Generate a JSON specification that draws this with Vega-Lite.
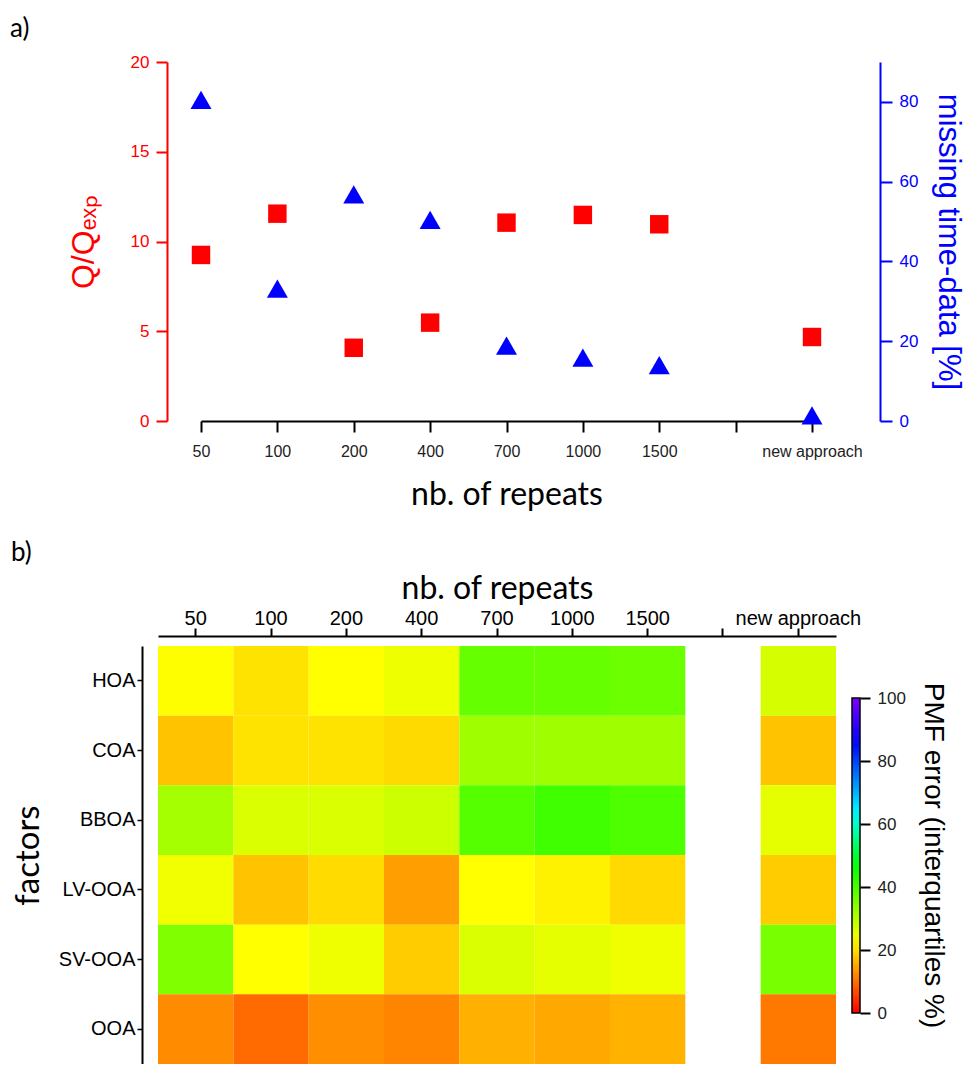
{
  "$schema": "https://vega.github.io/schema/vega-lite/v6.json",
  "background": "white",
  "padding": {"left": 10, "top": 16, "right": 5, "bottom": 0},
  "spacing": 30,
  "resolve": {"legend": {"color": "independent"}},
  "config": {
    "view": {"stroke": null},
    "axis": {"grid": false, "labelFont": "Liberation Sans", "titleFont": "Liberation Sans", "titleFontWeight": "normal"},
    "title": {"font": "Lato", "fontSize": 26, "fontWeight": "normal", "anchor": "start", "frame": "group", "color": "black", "baseline": "alphabetic"}
  },
  "vconcat": [
    {
      "title": {"text": "a)", "dx": -148, "offset": 11},
      "width": 722,
      "height": 359,
      "data": {"values": [
        {"r": "50", "Q": 9.25, "m": 80.5},
        {"r": "100", "Q": 11.55, "m": 33.2},
        {"r": "200", "Q": 4.08, "m": 56.8},
        {"r": "400", "Q": 5.48, "m": 50.4},
        {"r": "700", "Q": 11.05, "m": 18.9},
        {"r": "1000", "Q": 11.48, "m": 15.9},
        {"r": "1500", "Q": 10.96, "m": 14.0},
        {"r": "new approach", "Q": 4.68, "m": 1.4}
      ]},
      "layer": [
        {
          "mark": {"type": "point", "shape": "square", "filled": true, "color": "#ff0000", "size": 340, "opacity": 1},
          "encoding": {
            "x": {
              "field": "r", "type": "ordinal",
              "scale": {"type": "point", "domain": ["50", "100", "200", "400", "700", "1000", "1500", " ", "new approach"], "range": [43, 654], "padding": 0},
              "axis": {"title": "nb. of repeats", "titleFont": "Lato", "titleFontSize": 32, "titleColor": "black", "titlePadding": 20, "labelFontSize": 16, "labelColor": "#222222", "labelPadding": 11, "labelAngle": 0, "tickSize": 11, "tickWidth": 2, "tickColor": "black", "domainColor": "black", "domainWidth": 2}
            },
            "y": {
              "field": "Q", "type": "quantitative",
              "scale": {"domain": [0, 20], "nice": false},
              "axis": {"orient": "left", "offset": -9, "values": [0, 5, 10, 15, 20], "title": "Q/Qₑₓₚ", "titleColor": "#ff0000", "titleFontSize": 32, "titlePadding": 30, "labelColor": "#ff0000", "labelFontSize": 17, "labelPadding": 7, "tickColor": "#ff0000", "tickSize": 11, "tickWidth": 2, "domainColor": "#ff0000", "domainWidth": 2}
            }
          }
        },
        {
          "mark": {"type": "point", "shape": "triangle-up", "filled": true, "color": "#0000ff", "size": 441, "opacity": 1},
          "encoding": {
            "x": {"field": "r", "type": "ordinal"},
            "y": {
              "field": "m", "type": "quantitative",
              "scale": {"domain": [0, 90], "nice": false},
              "axis": {"orient": "right", "values": [0, 20, 40, 60, 80], "title": "missing time-data [%]", "titleAngle": 90, "titleColor": "#0000ff", "titleFontSize": 31, "titlePadding": 14, "labelColor": "#0000ff", "labelFontSize": 17, "labelPadding": 7, "tickColor": "#0000ff", "tickSize": 12, "tickWidth": 2, "domainColor": "#0000ff", "domainWidth": 2}
            }
          }
        }
      ],
      "resolve": {"scale": {"y": "independent"}}
    },
    {
      "title": {"text": "b)", "dx": -147, "offset": 6},
      "width": 678,
      "height": 418,
      "layer": [
        {
          "data": {"values": [
            {"f": "HOA", "r": "50", "e": 22.9}, {"f": "HOA", "r": "100", "e": 20.5}, {"f": "HOA", "r": "200", "e": 23.0}, {"f": "HOA", "r": "400", "e": 24.6},
            {"f": "HOA", "r": "700", "e": 37.4}, {"f": "HOA", "r": "1000", "e": 37.4}, {"f": "HOA", "r": "1500", "e": 36.8}, {"f": "HOA", "r": "new approach", "e": 27.0},
            {"f": "COA", "r": "50", "e": 17.6}, {"f": "COA", "r": "100", "e": 20.5}, {"f": "COA", "r": "200", "e": 20.5}, {"f": "COA", "r": "400", "e": 19.7},
            {"f": "COA", "r": "700", "e": 32.0}, {"f": "COA", "r": "1000", "e": 32.0}, {"f": "COA", "r": "1500", "e": 32.0}, {"f": "COA", "r": "new approach", "e": 17.6},
            {"f": "BBOA", "r": "50", "e": 31.5}, {"f": "BBOA", "r": "100", "e": 26.6}, {"f": "BBOA", "r": "200", "e": 26.6}, {"f": "BBOA", "r": "400", "e": 27.8},
            {"f": "BBOA", "r": "700", "e": 39.0}, {"f": "BBOA", "r": "1000", "e": 41.0}, {"f": "BBOA", "r": "1500", "e": 39.8}, {"f": "BBOA", "r": "new approach", "e": 25.4},
            {"f": "LV-OOA", "r": "50", "e": 24.2}, {"f": "LV-OOA", "r": "100", "e": 17.6}, {"f": "LV-OOA", "r": "200", "e": 19.75}, {"f": "LV-OOA", "r": "400", "e": 14.25},
            {"f": "LV-OOA", "r": "700", "e": 23.0}, {"f": "LV-OOA", "r": "1000", "e": 21.8}, {"f": "LV-OOA", "r": "1500", "e": 19.6}, {"f": "LV-OOA", "r": "new approach", "e": 18.4},
            {"f": "SV-OOA", "r": "50", "e": 34.95}, {"f": "SV-OOA", "r": "100", "e": 23.0}, {"f": "SV-OOA", "r": "200", "e": 24.4}, {"f": "SV-OOA", "r": "400", "e": 18.4},
            {"f": "SV-OOA", "r": "700", "e": 26.6}, {"f": "SV-OOA", "r": "1000", "e": 25.4}, {"f": "SV-OOA", "r": "1500", "e": 24.4}, {"f": "SV-OOA", "r": "new approach", "e": 35.7},
            {"f": "OOA", "r": "50", "e": 12.6}, {"f": "OOA", "r": "100", "e": 9.65}, {"f": "OOA", "r": "200", "e": 12.9}, {"f": "OOA", "r": "400", "e": 12.0},
            {"f": "OOA", "r": "700", "e": 15.9}, {"f": "OOA", "r": "1000", "e": 15.2}, {"f": "OOA", "r": "1500", "e": 16.1}, {"f": "OOA", "r": "new approach", "e": 10.8}
          ]},
          "mark": {"type": "rect"},
          "encoding": {
            "x": {
              "field": "r", "type": "ordinal",
              "scale": {"type": "band", "domain": ["50", "100", "200", "400", "700", "1000", "1500", " ", "new approach"], "paddingInner": 0, "paddingOuter": 0},
              "axis": {"orient": "top", "offset": 10, "title": "nb. of repeats", "titleFont": "Lato", "titleFontSize": 32, "titleColor": "black", "titlePadding": 3, "labelFontSize": 20, "labelColor": "black", "labelAngle": 0, "labelPadding": 0, "tickSize": 8, "tickWidth": 2, "tickColor": "black", "domainColor": "black", "domainWidth": 2}
            },
            "y": {
              "field": "f", "type": "nominal",
              "scale": {"domain": ["HOA", "COA", "BBOA", "LV-OOA", "SV-OOA", "OOA"], "paddingInner": 0, "paddingOuter": 0},
              "axis": {"orient": "left", "offset": 16, "title": "factors", "titleFont": "Lato", "titleFontSize": 33, "titleColor": "black", "titlePadding": 13, "labelFontSize": 20, "labelColor": "black", "labelPadding": 2, "tickSize": 5, "tickWidth": 1.5, "tickColor": "black", "domainColor": "black", "domainWidth": 2}
            },
            "color": {
              "field": "e", "type": "quantitative",
              "scale": {"domain": [0, 23, 47, 63, 86, 100], "range": ["#ff0000", "#ffff00", "#00ff00", "#00ffff", "#0000ff", "#8000ff"], "interpolate": "rgb"},
              "legend": {"orient": "none", "legendX": 694, "legendY": 52, "direction": "vertical", "gradientLength": 315, "gradientThickness": 8, "gradientStrokeColor": "black", "gradientStrokeWidth": 1.5, "title": null, "labelExpr": "''", "labelFontSize": 1, "padding": 0}
            }
          }
        },
        {
          "data": {"values": [{}]},
          "mark": {"type": "rule", "strokeOpacity": 0},
          "encoding": {
            "y": {
              "datum": 0, "type": "quantitative",
              "scale": {"domain": [-16.19, 116.51], "nice": false, "zero": false},
              "axis": {"orient": "right", "offset": 24, "values": [0, 20, 40, 60, 80, 100], "domain": false, "tickSize": 10, "tickWidth": 2, "tickColor": "black", "labelFontSize": 17, "labelColor": "#222222", "labelPadding": 7, "title": "PMF error (interquartiles %)", "titleAngle": 90, "titleFontSize": 28, "titleColor": "black", "titlePadding": 13}
            }
          }
        }
      ],
      "resolve": {"scale": {"y": "independent"}}
    }
  ]
}
